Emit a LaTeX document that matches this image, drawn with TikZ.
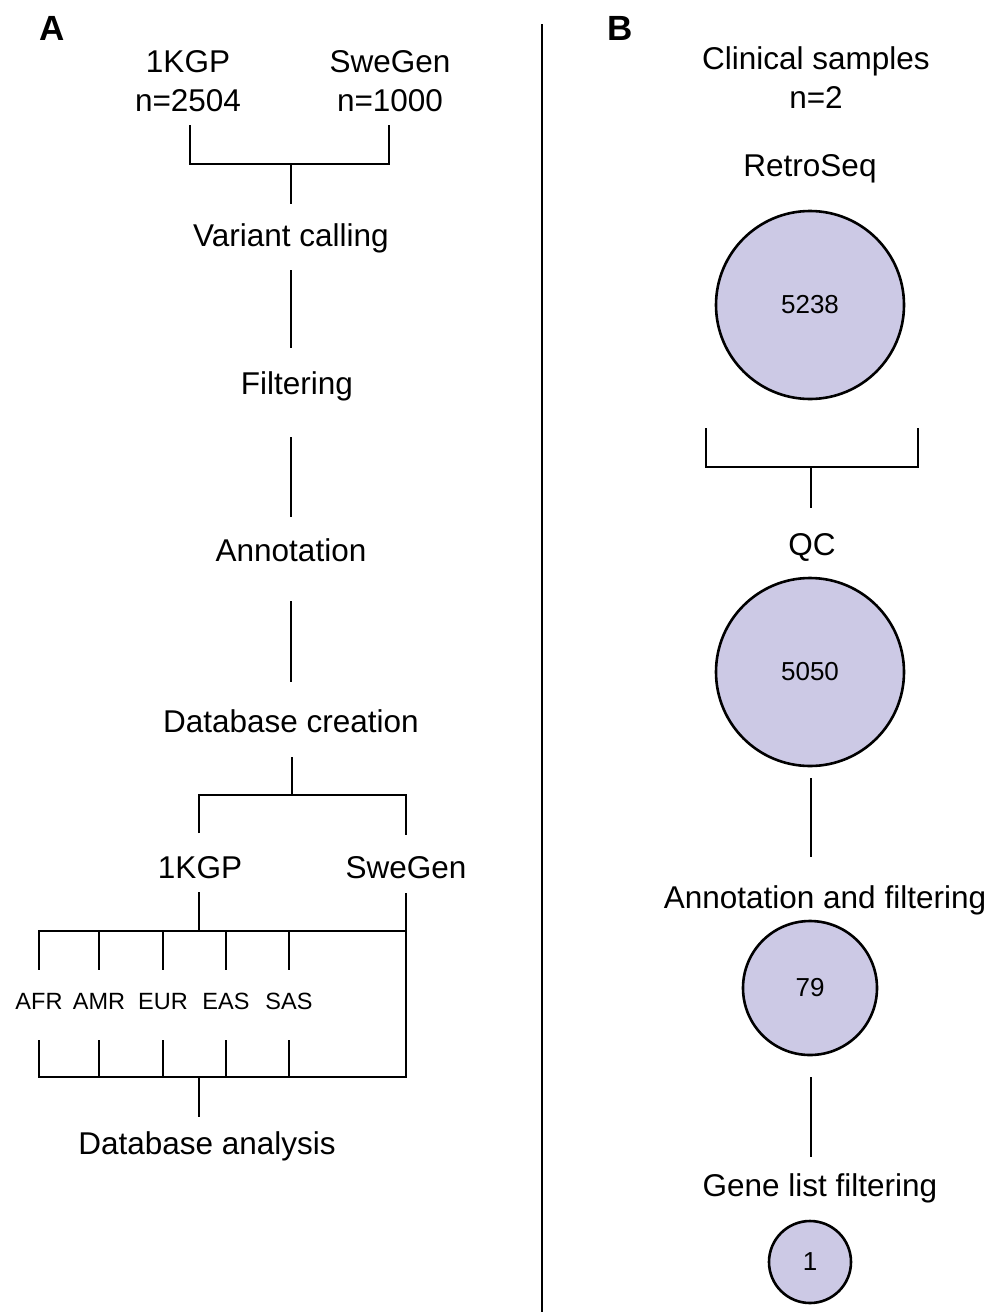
\documentclass[tikz,border=0pt]{standalone}
\usepackage{fontspec}
\setmainfont{Liberation Sans}
\definecolor{circfill}{RGB}{204,201,229}
\begin{document}
\begin{tikzpicture}[x=1pt,y=-1pt,
  ln/.style={line width=2.7pt,line cap=butt,line join=miter},
  lbl/.style={inner sep=0pt,anchor=center,font=\fontsize{31.5}{38.5}\selectfont,align=center},
  pop/.style={inner sep=0pt,anchor=center,text height=17pt,text depth=0pt,font=\fontsize{23.5}{28}\selectfont},
  panel/.style={inner sep=0pt,anchor=center,font=\fontsize{35}{40}\selectfont\bfseries},
  venn/.style={circle,draw=black,line width=2.6pt,fill=circfill,inner sep=0pt,font=\fontsize{26}{30}\selectfont}]
\useasboundingbox (0,0) rectangle (1003,1312);
% divider
\coordinate (dtop) at (542,24);
\coordinate (dbot) at (542,1312);
\draw[ln] (dtop) -- (dbot);
% ---------- Panel A ----------
\node[panel] (pA) at (52,28) {A};
\node[lbl] (k1) at (188,81) {1KGP\\n=2504};
\node[lbl] (sg1) at (390,81) {SweGen\\n=1000};
\node[lbl] (vc) at (291,238) {Variant calling};
\node[lbl] (filt) at (297,386) {Filtering};
\node[lbl] (ann) at (291,550) {Annotation};
\node[lbl] (db) at (291,721) {Database creation};
\node[lbl] (k2) at (200,868) {1KGP};
\node[lbl] (s2) at (406,868) {SweGen};
\node[pop] (afr) at (39,1001) {AFR};
\node[pop] (amr) at (99,1001) {AMR};
\node[pop] (eur) at (163,1001) {EUR};
\node[pop] (eas) at (226,1001) {EAS};
\node[pop] (sas) at (289,1001) {SAS};
\node[lbl] (dba) at (207,1146) {Database analysis};
% top bracket
\coordinate (tb) at (291,164);
\draw[ln] ([xshift=2,yshift=-44]k1.center) -- ([xshift=2]k1.center |- tb) -- ([xshift=-1]sg1.center |- tb) -- ([xshift=-1,yshift=-44]sg1.center);
\draw[ln] (tb) -- ([yshift=34]vc.center);
% chain
\draw[ln,shorten <=32pt,shorten >=38pt] (vc.center) -- (vc.center |- filt.center);
\draw[ln,shorten <=51pt,shorten >=33pt] (vc.center |- filt.center) -- (ann.center);
\draw[ln,shorten <=51pt,shorten >=39pt] (ann.center) -- (db.center);
% database split
\coordinate (db2) at (292,795);
\draw[ln] ([xshift=1,yshift=-36]db.center) -- (db2);
\draw[ln] ([xshift=-1,yshift=35]k2.center) -- ([xshift=-1]k2.center |- db2) -- (s2.center |- db2) -- ([yshift=33]s2.center);
% population bracket
\coordinate (pt) at (406,931);
\coordinate (pb) at (406,1077);
\draw[ln] ([xshift=-1,yshift=-24]k2.center) -- ([xshift=-1]k2.center |- pt);
\draw[ln] ([yshift=-25]s2.center) -- (pt) -- (afr.center |- pt) -- ([yshift=31]afr.center);
\foreach \p in {amr,eur,eas,sas}{
  \draw[ln] (\p.center |- pt) -- ([yshift=31]\p.center);
  \draw[ln] ([yshift=-39]\p.center) -- (\p.center |- pb);
}
\draw[ln] ([yshift=-39]afr.center) -- (afr.center |- pb) -- (pb) -- (pt);
\coordinate (pbs) at (199,1077);
\draw[ln] (pbs) -- ([xshift=-8,yshift=29]dba.center);
% ---------- Panel B ----------
\node[panel] (pB) at (620,28) {B};
\node[lbl] (cs) at (816,77.5) {Clinical samples\\n=2};
\node[lbl] (rs) at (810,169) {RetroSeq};
\node[venn,minimum size=188pt] (c1) at (810,305) {5238};
\node[lbl] (qc) at (812,547) {QC};
\node[venn,minimum size=188pt] (c2) at (810,672) {5050};
\node[lbl] (af) at (825,900) {Annotation and filtering};
\node[venn,minimum size=134pt] (c3) at (810,988) {79};
\node[lbl] (gl) at (820,1188) {Gene list filtering};
\node[venn,minimum size=82pt] (c4) at (810,1262) {1};
% bracket under c1
\coordinate (bb) at (811,467);
\draw[ln] ([xshift=-104,yshift=-123]c1.center) -- ([xshift=-104]c1.center |- bb) -- ([xshift=108]c1.center |- bb) -- ([xshift=108,yshift=-123]c1.center);
\draw[ln] (bb) -- ([xshift=-1,yshift=39]qc.center);
\draw[ln,shorten <=106pt,shorten >=43pt] ([xshift=1]c2.center) -- ([xshift=1]c2.center |- af.center);
\draw[ln,shorten <=89pt,shorten >=31pt] ([xshift=1]c3.center) -- ([xshift=1]c3.center |- gl.center);
\end{tikzpicture}
\end{document}
